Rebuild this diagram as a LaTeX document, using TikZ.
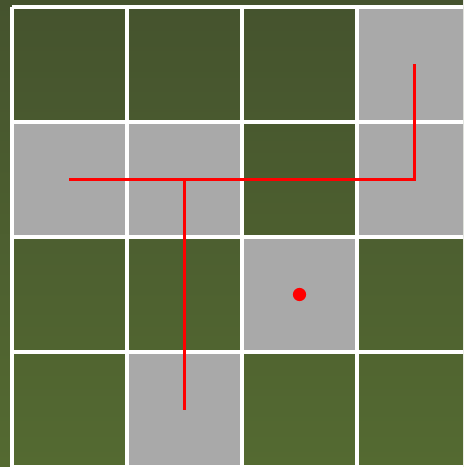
\documentclass[tikz,border=0pt]{standalone}
\definecolor{bgtop}{HTML}{45532E}
\definecolor{bgbottom}{HTML}{546A31}
\definecolor{wall}{HTML}{A9A9A9}
\definecolor{route}{HTML}{FF0000}

\begin{document}
\begin{tikzpicture}[
  x=2cm, y=-2cm,
  line cap=butt, line join=miter,
  gridline/.style={draw=white, line width=1.5pt},
  wallcell/.style={fill=wall},
  path/.style={draw=route, line width=1.7pt},
  goal/.style={circle, fill=route, minimum size=0.23cm, inner sep=0pt},
]
\useasboundingbox (-0.1043,-0.0609) rectangle (3.9217,4.0);
\clip (-0.1043,-0.0609) rectangle (3.9217,4.0);
\shade[top color=bgtop, bottom color=bgbottom] (-0.1043,-0.0609) rectangle (3.9217,4.0);
% blocked cells
\fill[wallcell] (3,0) rectangle (4,1);
\fill[wallcell] (0,1) rectangle (1,2);
\fill[wallcell] (1,1) rectangle (2,2);
\fill[wallcell] (3,1) rectangle (4,2);
\fill[wallcell] (2,2) rectangle (3,3);
\fill[wallcell] (1,3) rectangle (2,4);
\draw[gridline, step=2cm] (0,0) grid (4.5,4.5);
% route through cell centres
\coordinate (a) at (0.5,1.5);
\coordinate (b) at (1.5,1.5);
\coordinate (c) at (3.5,1.5);
\coordinate (d) at (3.5,0.5);
\coordinate (e) at (1.5,3.5);
\draw[path] (a) -- (c) -- (d);
\draw[path] (b) -- (e);
\node[goal] (target) at (2.5,2.5) {};
\end{tikzpicture}
\end{document}
